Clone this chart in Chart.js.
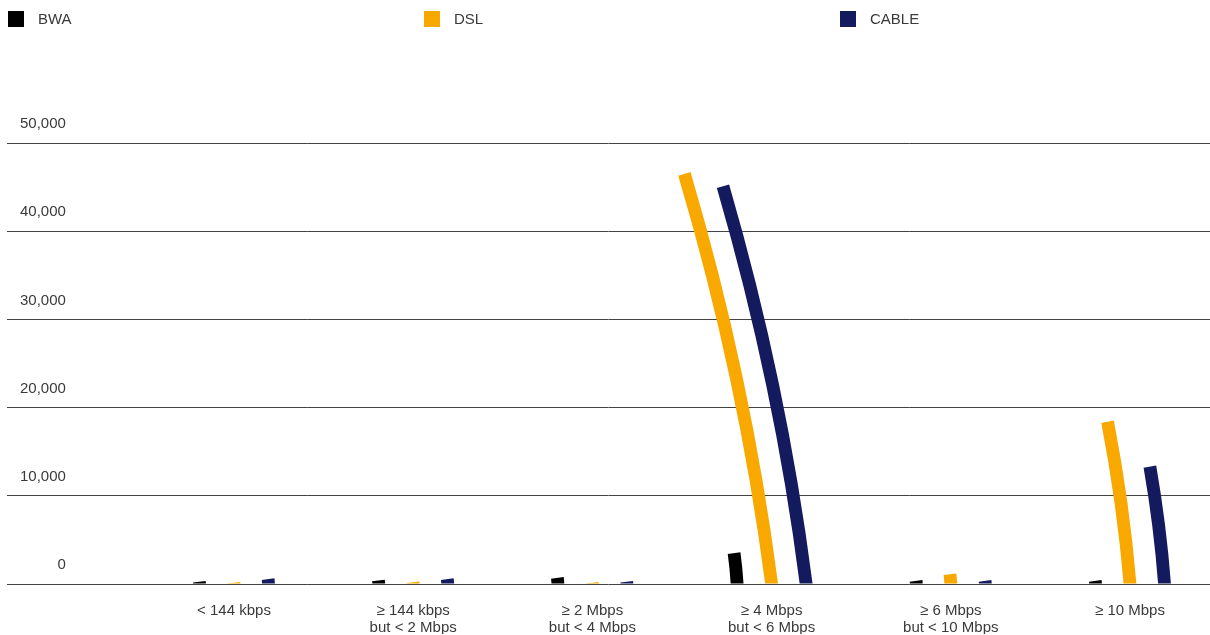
<!DOCTYPE html>
<html>
<head>
<meta charset="utf-8">
<script src="https://cdn.jsdelivr.net/npm/chart.js@4.4.0/dist/chart.umd.min.js"></script>
<style>
  html, body { margin: 0; padding: 0; background: #ffffff; overflow: hidden; }
  #wrap { width: 1210px; height: 635px; position: relative; }
</style>
</head>
<body>
<div id="wrap"><canvas id="chart" width="1210" height="635"></canvas></div>
<script>
// Speed bands (multi-line tick labels)
const categories = [
  ['< 144 kbps'],
  ['≥ 144 kbps', 'but < 2 Mbps'],
  ['≥ 2 Mbps', 'but < 4 Mbps'],
  ['≥ 4 Mbps', 'but < 6 Mbps'],
  ['≥ 6 Mbps', 'but < 10 Mbps'],
  ['≥ 10 Mbps']
];

// Connections per technology and speed band
const seriesNames = ['BWA', 'DSL', 'CABLE'];
const bwaValues   = [250, 400, 700, 3500, 350, 350];
const dslValues   = [150, 200, 150, 46500, 1100, 18400];
const cableValues = [550, 550, 250, 45100, 350, 13300];
const seriesColors = ['#000000', '#f9a800', '#131a5e'];

// Value axis
const yTickValues = [0, 10000, 20000, 30000, 40000, 50000];
const yTickLabels = ['0', '10,000', '20,000', '30,000', '40,000', '50,000'];

const TEXT = '#3a3a3a';
const FONT = '"Liberation Sans", Arial, Helvetica, sans-serif';

function toPoints(values) {
  return values.map((v, i) => ({ x: i, y: v }));
}

// Draws each bar as a thick stroke that bends to the left as it rises.
const bentBars = {
  id: 'bentBars',
  beforeDatasetDraw(chart, args) {
    const ctx = chart.ctx;
    const area = chart.chartArea;
    const color = chart.data.datasets[args.index].backgroundColor;
    args.meta.data.forEach(el => {
      const x = el.x, top = el.y, base = el.base;
      const H = base - top;
      if (!(H > 0)) return;
      const D = 0.09 * H + 0.0003 * H * H;       // horizontal lean of the tip
      const cx = x - 0.305 * D, cy = base - H / 2; // bend control point
      const len = Math.hypot(0.305 * D, H / 2);
      const ex = x + (0.305 * D / len) * 14;
      const ey = base + ((H / 2) / len) * 14;
      ctx.save();
      ctx.beginPath();
      ctx.rect(area.left, 0, area.right - area.left, base);
      ctx.clip();
      ctx.beginPath();
      ctx.moveTo(ex, ey);
      ctx.lineTo(x, base);
      ctx.quadraticCurveTo(cx, cy, x - D, top);
      ctx.lineWidth = 12.8;
      ctx.lineCap = 'butt';
      ctx.lineJoin = 'round';
      ctx.strokeStyle = color;
      ctx.stroke();
      ctx.restore();
    });
    return false;
  }
};

// Legend in three evenly spaced columns across the top
const columnLegend = {
  id: 'columnLegend',
  afterDraw(chart) {
    const ctx = chart.ctx;
    ctx.save();
    ctx.font = '15px ' + FONT;
    ctx.textBaseline = 'middle';
    ctx.textAlign = 'left';
    chart.data.datasets.forEach((ds, i) => {
      const bx = 8 + 416 * i;
      ctx.fillStyle = ds.backgroundColor;
      ctx.fillRect(bx, 11, 16, 16);
      ctx.fillStyle = TEXT;
      ctx.fillText(ds.label, bx + 30, 20);
    });
    ctx.restore();
  }
};

const datasets = [bwaValues, dslValues, cableValues].map((vals, i) => ({
  label: seriesNames[i],
  data: toPoints(vals),
  backgroundColor: seriesColors[i],
  borderWidth: 0,
  categoryPercentage: 0.5776,
  barPercentage: 0.37
}));

new Chart(document.getElementById('chart'), {
  type: 'bar',
  data: { datasets },
  plugins: [bentBars, columnLegend],
  options: {
    responsive: false,
    animation: false,
    devicePixelRatio: 1,
    layout: { padding: { left: 7, right: 0, top: 143, bottom: 1 } },
    plugins: {
      legend: { display: false },
      tooltip: { enabled: false }
    },
    scales: {
      x: {
        type: 'linear',
        offset: false,
        min: -1.2667,
        max: 5.4465,
        afterBuildTicks: scale => { scale.ticks = categories.map((_, i) => ({ value: i })); },
        afterFit: scale => { scale.height = 50; },
        grid: { display: false, drawTicks: false },
        border: { display: false },
        ticks: {
          callback: (value) => categories[value],
          autoSkip: false,
          maxRotation: 0,
          minRotation: 0,
          padding: 18,
          color: TEXT,
          font: { family: FONT, size: 15, lineHeight: '17px' }
        }
      },
      y: {
        min: 0,
        max: 50000,
        afterBuildTicks: scale => { scale.ticks = yTickValues.map(v => ({ value: v })); },
        afterFit: scale => { scale.width = 0; },
        grid: { color: '#444444', lineWidth: 1, drawTicks: false },
        border: { display: false },
        ticks: {
          callback: (value, index) => yTickLabels[index],
          mirror: true,
          crossAlign: 'far',
          padding: 13,
          labelOffset: -19,
          color: TEXT,
          font: { family: FONT, size: 15 }
        }
      }
    }
  }
});
</script>
</body>
</html>
